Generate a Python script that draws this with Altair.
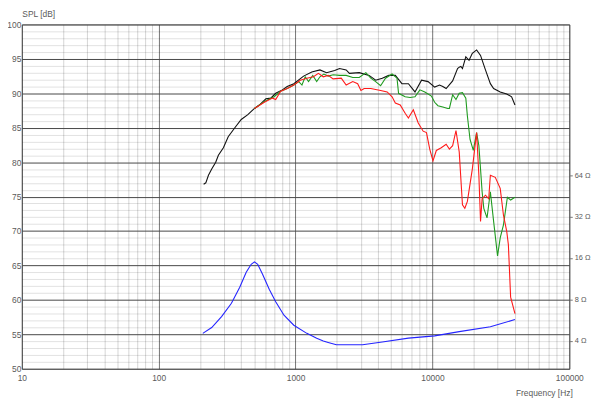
import altair as alt
import pandas as pd

# ---- data ----
black_f = [213, 221, 231, 244, 261, 273, 297, 322, 360, 401, 448, 501, 544, 607, 659, 716, 800, 869, 971,
           1145, 1314, 1507, 1684, 1931, 2097, 2343, 2475, 2920, 3445, 3848, 4299, 4795, 5357, 5984, 6674,
           7457, 8327, 9290, 10380, 11275, 11907, 12595, 14048, 15259, 15692, 16139, 16571, 17534, 18516,
           19560, 21025, 22460, 24398, 26500, 27990, 31271, 34870, 37890, 40080]
black_db = [76.8, 77.0, 78.1, 79.0, 80.0, 81.0, 82.1, 83.7, 85.0, 86.2, 86.9, 87.8, 88.3, 89.2, 89.3, 90.0, 90.5, 91.0, 91.4,
            92.5, 93.1, 93.4, 93.0, 93.3, 93.6, 93.4, 92.9, 93.0, 92.6, 91.9, 92.2, 92.6, 92.6, 91.4, 91.4,
            90.2, 91.9, 91.7, 90.9, 91.2, 91.0, 90.7, 91.8, 93.6, 93.8, 93.9, 93.6, 95.3, 94.8,
            95.8, 96.3, 95.5, 93.4, 91.4, 90.7, 90.2, 89.9, 89.5, 88.3]

green_f = [501, 591, 697, 778, 869, 971, 1055, 1114, 1176, 1244, 1336, 1427, 1507, 1610, 1731, 1881, 2097, 2343,
           2618, 2920, 3263, 3544, 3848, 4181, 4541, 5072, 5509, 5657, 6320, 6865, 7457, 8097, 8797, 9829,
           10380, 10962, 11907, 12934, 13302, 14048, 14860, 15692, 16571, 17534, 18004, 18826, 19887, 21025,
           21838, 22460, 23067, 23724, 25052, 26500, 27990, 29902, 31271, 33030, 35290, 37260, 40080]
green_db = [87.8, 88.8, 89.5, 90.3, 90.7, 91.2, 91.7, 91.2, 92.4, 91.7, 92.6, 91.7, 92.4, 92.8, 92.5, 92.7, 92.6, 92.6,
            92.3, 92.3, 93.0, 92.2, 91.7, 91.1, 92.2, 92.8, 92.2, 90.0, 89.5, 89.4, 89.5, 90.5, 90.2, 89.6,
            88.7, 88.2, 88.0, 87.8, 87.8, 89.8, 89.1, 90.0, 90.1, 89.3, 86.7, 83.3, 81.7, 84.3,
            82.4, 79.0, 75.7, 73.3, 71.9, 75.7, 71.4, 66.4, 69.0, 70.9, 74.9, 74.5, 74.9]

red_f = [501, 591, 678, 716, 778, 869, 971, 1083, 1209, 1351, 1468, 1594, 1731, 1881, 2157, 2343, 2618, 2843,
         3003, 3171, 3544, 4181, 4670, 5072, 5357, 5818, 6320, 6674, 7251, 7876, 8553, 9046, 9556, 10092,
         10676, 11596, 12595, 13302, 14048, 14860, 15692, 16571, 17245, 18004, 19560, 21025, 21838, 22460,
         23067, 24398, 25768, 26500, 28788, 31271, 33030, 34870, 35880, 37260, 40080]
red_db = [87.8, 88.7, 89.3, 89.1, 90.3, 90.7, 91.2, 91.9, 92.2, 92.4, 92.9, 92.4, 92.6, 92.1, 92.2, 91.2, 91.7, 91.4,
          90.4, 90.7, 90.7, 90.4, 90.2, 89.5, 88.6, 88.3, 87.1, 86.4, 87.6, 85.7, 84.5, 84.3, 81.9, 80.2,
          81.7, 82.1, 82.6, 81.9, 82.4, 84.6, 81.5, 73.8, 73.3, 74.3, 79.0, 84.3, 78.1, 71.4,
          74.7, 75.2, 74.7, 78.1, 77.8, 76.2, 72.3, 70.0, 68.0, 60.4, 58.0]

imp_f = [210, 244, 288, 340, 391, 436, 474, 501, 529, 574, 642, 716, 823, 971, 1209, 1427, 1594, 1731,
         1986, 3088, 4299, 6674, 10380, 15692, 26500, 40080]
imp_ohm = [4.54, 5.0, 6.0, 7.5, 9.8, 12.6, 14.4, 15.0, 14.4, 12.2, 9.5, 7.7, 6.15, 5.2, 4.54, 4.19, 4.0, 3.9,
           3.75, 3.75, 3.93, 4.19, 4.35, 4.67, 5.07, 5.72]

x_ticks = [m * 10 ** e for e in range(1, 5) for m in range(1, 10)] + [100000]
decades = [10, 100, 1000, 10000, 100000]
spl_ticks = list(range(50, 101))
ohm_ticks = [4, 8, 16, 32, 64]

FONT = "Liberation Sans, Arial, sans-serif"
TXT = "#5a5a5a"
FS = 8.5
W, H = 555, 349

dec_test = "indexof([10,100,1000,10000,100000], datum.value) >= 0"

x_enc = alt.X(
    "f:Q",
    scale=alt.Scale(type="log", domain=[10, 100000], nice=False),
    axis=alt.Axis(
        values=x_ticks,
        format="d",
        labelExpr=f"{dec_test} ? datum.label : ''",
        labelOverlap=False,
        labelFlush=False,
        labelPadding=5,
        labelFont=FONT, labelFontSize=FS, labelColor=TXT,
        ticks=False, domain=False,
        grid=True,
        gridColor={"condition": {"test": dec_test, "value": "rgba(0,0,0,0.55)"}, "value": "rgba(0,0,0,0.17)"},
        gridWidth=1,
        title="Frequency [Hz]",
        titleFont=FONT, titleFontSize=FS, titleFontWeight="normal", titleColor=TXT,
        titleAlign="right", titleBaseline="alphabetic", titleAnchor="end",
        titleX=W + 3, titleY=27,
    ),
)

y_enc = alt.Y(
    "db:Q",
    scale=alt.Scale(domain=[50, 100], nice=False, zero=False),
    axis=alt.Axis(
        values=spl_ticks,
        labelExpr="datum.value % 5 == 0 ? datum.label : ''",
        labelOverlap=False,
        labelFlush=False,
        labelPadding=1,
        labelFont=FONT, labelFontSize=FS, labelColor=TXT,
        ticks=False, domain=False,
        grid=True,
        gridColor={"condition": {"test": "datum.value % 5 == 0", "value": "#464646"}, "value": "rgba(0,0,0,0.12)"},
        title="SPL [dB]",
        titleFont=FONT, titleFontSize=FS, titleFontWeight="normal", titleColor=TXT,
        titleAngle=0, titleAlign="left", titleBaseline="alphabetic", titleAnchor="start",
        titleX=0, titleY=-8,
    ),
)


def spl_layer(fs, dbs, color):
    df = pd.DataFrame({"f": fs, "db": dbs})
    return alt.Chart(df).mark_line(color=color, strokeWidth=1.1).encode(x=x_enc, y=y_enc)


spl = alt.layer(
    spl_layer(black_f, black_db, "#111111"),
    spl_layer(green_f, green_db, "#1f9a1f"),
    spl_layer(red_f, red_db, "#ff1a1a"),
)

imp_df = pd.DataFrame({"f": imp_f, "ohm": imp_ohm})
# impedance shown on a log axis: 6 dB per doubling, 4 ohm at 54 dB
lo, hi = 10 ** ((50 - 42) / 20), 10 ** ((100 - 42) / 20)
blue = alt.Chart(imp_df).mark_line(color="#2424ff", strokeWidth=1.1).encode(
    x=x_enc,
    y=alt.Y(
        "ohm:Q",
        scale=alt.Scale(type="log", domain=[lo, hi], nice=False),
        axis=alt.Axis(
            orient="right",
            values=ohm_ticks,
            labelExpr="datum.value + ' Ω'",
            labelOverlap=False,
            labelFlush=False,
            labelPadding=2,
            labelFont=FONT, labelFontSize=7.5, labelColor=TXT,
            ticks=True, tickSize=3, tickColor="#777777",
            domain=False, grid=False, title=None,
        ),
    ),
)

chart = (
    alt.layer(spl, blue)
    .resolve_scale(y="independent")
    .properties(
        width=W, height=H,
        autosize=alt.AutoSizeParams(type="none"),
        padding={"left": 14, "top": 14, "right": 23, "bottom": 29},
        background="white",
    )
    .configure_view(stroke="#8a8a8a", strokeWidth=1)
)

chart.save("out.html", embed_options={"renderer": "svg", "actions": False})
